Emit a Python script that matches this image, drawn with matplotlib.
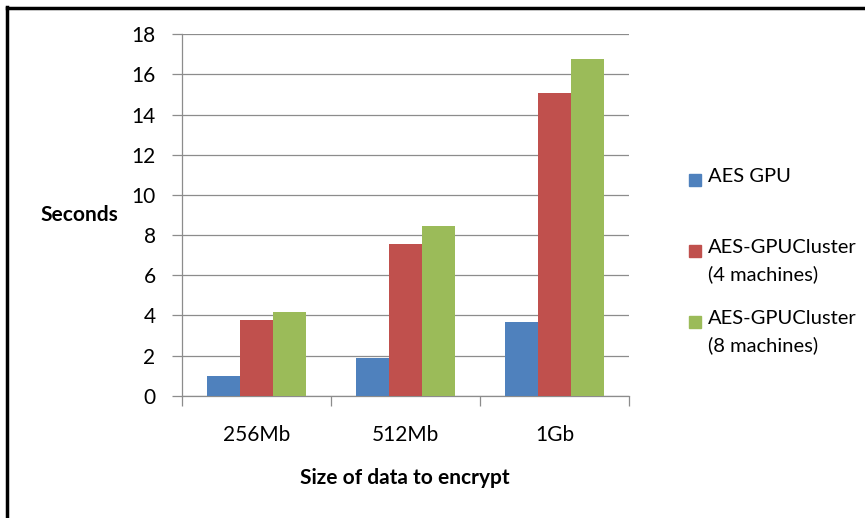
import matplotlib.pyplot as plt
from matplotlib.patches import Rectangle
from matplotlib.lines import Line2D
import numpy as np

categories = ['256Mb', '512Mb', '1Gb']
series_names = ['AES GPU', 'AES-GPUCluster\n(4 machines)', 'AES-GPUCluster\n(8 machines)']
aes_gpu = [0.96, 1.86, 3.66]
cluster_4 = [3.75, 7.56, 15.06]
cluster_8 = [4.18, 8.44, 16.77]
colors = ['#4F81BD', '#C0504D', '#9BBB59']

plt.rcParams['font.family'] = ['Lato', 'DejaVu Sans']

fig = plt.figure(figsize=(8.65, 5.18), dpi=100)
ax = fig.add_axes([182 / 865, 1 - 395.7 / 518, 447 / 865, (395.7 - 34.3) / 518])

x = np.arange(len(categories))
w = 1 / 4.5
for i, vals in enumerate([aes_gpu, cluster_4, cluster_8]):
    ax.bar(x + (i - 1) * w, vals, width=w, color=colors[i], zorder=3)

ax.set_xlim(-0.5, 2.5)
ax.set_ylim(0, 18)
ax.set_yticks(range(0, 19, 2))
ax.yaxis.grid(True, color='#8c8c8c', linewidth=0.9, zorder=0)
ax.set_xticks(x)
ax.set_xticklabels(categories, fontsize=15)
ax.set_xticks([-0.5, 0.5, 1.5, 2.5], minor=True)
ax.tick_params(axis='x', which='major', length=0, pad=21)
ax.tick_params(axis='x', which='minor', length=7, color='#8c8c8c', width=0.9, direction='out')
ax.tick_params(axis='y', length=7, color='#8c8c8c', width=0.9, labelsize=15, pad=12)
for s in ['top', 'right']:
    ax.spines[s].set_visible(False)
for s in ['left', 'bottom']:
    ax.spines[s].set_color('#8c8c8c')
    ax.spines[s].set_linewidth(0.9)

fig.text(79 / 865, 1 - 215 / 518, 'Seconds', fontsize=15, fontweight='bold', ha='center', va='center')
fig.text(405 / 865, 1 - 478 / 518, 'Size of data to encrypt', fontsize=15, fontweight='bold',
         ha='center', va='center')

# legend drawn by hand so the square sits on the first text line
legend_y = [180, 251, 322]
for name, c, yy in zip(series_names, colors, legend_y):
    fig.patches.append(Rectangle((689 / 865, 1 - (yy + 6) / 518), 12 / 865, 12 / 518,
                                 color=c, transform=fig.transFigure))
    fig.text(708 / 865, 1 - (yy - 12) / 518, name, fontsize=14.5, va='top', ha='left', linespacing=1.6)

# frame border on left and top
fig.add_artist(Line2D([7 / 865, 7 / 865], [0, 1 - 7 / 518], color='black', linewidth=2.5,
                      transform=fig.transFigure))
fig.add_artist(Line2D([7 / 865, 1], [1 - 7.5 / 518, 1 - 7.5 / 518], color='black', linewidth=2.5,
                      transform=fig.transFigure))

fig.savefig('out.png', dpi=100)
